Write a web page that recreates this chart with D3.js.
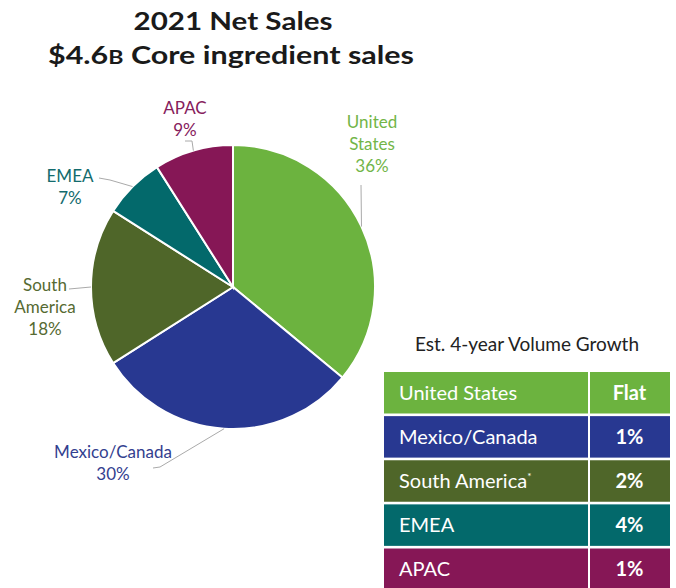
<!DOCTYPE html>
<html>
<head>
<meta charset="utf-8" />
<title>2021 Net Sales</title>
<script src="https://cdn.jsdelivr.net/npm/d3@7"></script>
<style>
    body { margin: 0; background: #fff; }
    svg { display: block; font-family: Lato, "Open Sans", sans-serif; }
</style>
</head>
<body>
<svg id="CHART" width="676" height="588"></svg>
<script>
    // data
    var regions = ["United States", "Mexico/Canada", "South America", "EMEA", "APAC"];
    var shares = [36, 30, 18, 7, 9];
    var pieLabels = [["United", "States"], ["Mexico/Canada"], ["South", "America"], ["EMEA"], ["APAC"]];
    var growthRows = ["United States", "Mexico/Canada", "South America", "EMEA", "APAC"];
    var growthVals = ["Flat", "1%", "2%", "4%", "1%"];
    var colors = ["#6cb33f", "#283891", "#4f6629", "#03696b", "#861756"];
    var textColors = ["#72b548", "#33408f", "#566a32", "#136b6d", "#86205c"];

    var svg = d3.select("#CHART");

    // titles
    svg.append("text").attr("x", 233).attr("y", 30).attr("text-anchor", "middle")
        .attr("font-size", 25).attr("font-weight", 700).attr("fill", "#1a1a1a")
        .attr("textLength", 199).attr("lengthAdjust", "spacingAndGlyphs")
        .text("2021 Net Sales");
    var t2 = svg.append("text").attr("x", 231).attr("y", 64).attr("text-anchor", "middle")
        .attr("font-size", 25).attr("font-weight", 700).attr("fill", "#1a1a1a")
        .attr("textLength", 366).attr("lengthAdjust", "spacingAndGlyphs");
    t2.append("tspan").text("$4.6");
    t2.append("tspan").attr("font-size", 19).text("B");
    t2.append("tspan").text(" Core ingredient sales");

    /*------------- pie -------------*/
    var CX = 233, CY = 287, R = 142;
    var pie = d3.pie().sort(null).value(function (d) { return d; });
    var arcs = pie(shares);
    var arc = d3.arc().innerRadius(0).outerRadius(R);

    var g = svg.append("g").attr("transform", "translate(" + CX + "," + CY + ")");
    g.selectAll("path.slice").data(arcs).enter().append("path")
        .attr("class", "slice")
        .attr("d", arc)
        .attr("fill", function (d, i) { return colors[i]; })
        .attr("stroke", "#fff").attr("stroke-width", 2);

    // label layout, relative to pie centre: text anchor + leader elbow
    var labelLayout = [
        { tx: 139, ty: -159, elbow: null, lead: [128, -102] },
        { tx: -120, ty: 171, elbow: [-73, 180], lead: [-80, 181] },
        { tx: -188, ty: 4, elbow: null, lead: [-164, 2] },
        { tx: -163, ty: -105, elbow: [-123, -107], lead: [-134, -109] },
        { tx: -48, ty: -173, elbow: [-41, -146], lead: [-48, -146] }
    ];

    arcs.forEach(function (d, i) {
        var L = labelLayout[i];
        var mid = (d.startAngle + d.endAngle) / 2;
        var edge = d3.pointRadial(mid, R);
        var pts = [edge];
        if (L.elbow) pts.push(L.elbow);
        pts.push(L.lead);
        g.append("path")
            .attr("d", d3.line()(pts.reverse()))
            .attr("fill", "none").attr("stroke", "#aaa").attr("stroke-width", 1);

        var lines = pieLabels[i].concat([d.data + "%"]);
        var txt = g.append("text").attr("text-anchor", "middle")
            .attr("font-size", 17).attr("fill", textColors[i]);
        lines.forEach(function (s, k) {
            txt.append("tspan").attr("x", L.tx).attr("y", L.ty + k * 22).text(s);
        });
    });

    /*------------- growth table -------------*/
    var TX = 384, TY = 372, TW = 286, ColX = 589, RowH = 41, Gap = 2.6;
    svg.append("text").attr("x", 527).attr("y", 351).attr("text-anchor", "middle")
        .attr("font-size", 19).attr("fill", "#222").text("Est. 4-year Volume Growth");

    var y = d3.scaleBand().domain(growthRows).range([TY, TY + 5 * (RowH + Gap)]).paddingInner(Gap / (RowH + Gap)).paddingOuter(0);

    var rows = svg.selectAll("g.row").data(growthRows).enter().append("g").attr("class", "row");
    rows.append("rect")
        .attr("x", TX).attr("y", function (d) { return y(d); })
        .attr("width", ColX - TX - 1).attr("height", y.bandwidth())
        .attr("fill", function (d, i) { return colors[i]; });
    rows.append("rect")
        .attr("x", ColX + 1).attr("y", function (d) { return y(d); })
        .attr("width", TX + TW - ColX - 1).attr("height", y.bandwidth())
        .attr("fill", function (d, i) { return colors[i]; });
    var nameText = rows.append("text")
        .attr("x", TX + 15).attr("y", function (d) { return y(d) + y.bandwidth() / 2 + 7; })
        .attr("font-size", 20).attr("fill", "#fff");
    nameText.append("tspan").text(function (d) { return d; });
    nameText.filter(function (d) { return d === "South America"; })
        .append("tspan").attr("font-size", 10).attr("dy", -8).text("*");
    rows.append("text")
        .attr("x", (ColX + TX + TW) / 2).attr("y", function (d) { return y(d) + y.bandwidth() / 2 + 7; })
        .attr("text-anchor", "middle").attr("font-size", 20).attr("font-weight", 700).attr("fill", "#fff")
        .text(function (d, i) { return growthVals[i]; });
</script>
</body>
</html>
